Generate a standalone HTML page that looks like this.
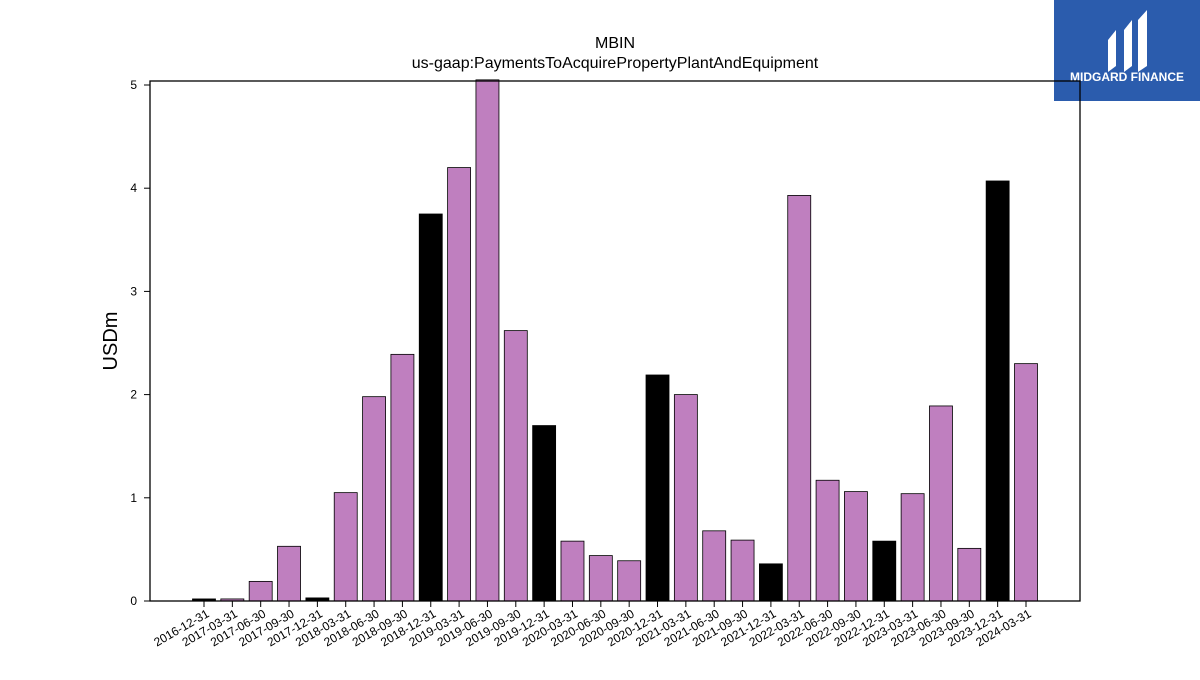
<!DOCTYPE html>
<html><head><meta charset="utf-8"><style>
body{margin:0;background:#fff;width:1200px;height:675px;overflow:hidden;font-family:"Liberation Sans","DejaVu Sans",sans-serif}
</style></head><body>
<svg id="chart" width="1200" height="675" xmlns="http://www.w3.org/2000/svg">
<rect x="1054" y="0" width="146" height="101" fill="#2b5cad"/>
<g fill="#fff">
<path d="M1108 40 L1116 30 L1116 66 L1108 72 Z"/>
<path d="M1124 30 L1132 20 L1132 66 L1124 72 Z"/>
<path d="M1138 20 L1147 10 L1147 66 L1138 72 Z"/>
</g>
<text x="1127" y="81" font-size="12" font-weight="bold" fill="#fff" text-anchor="middle">MIDGARD FINANCE</text>
<text x="615" y="48" font-size="16" text-anchor="middle">MBIN</text>
<text x="615" y="68" font-size="16" text-anchor="middle">us-gaap:PaymentsToAcquirePropertyPlantAndEquipment</text>
<text transform="translate(117,341) rotate(-90)" font-size="20" text-anchor="middle">USDm</text>
<g id="yticks"></g><g id="bars"></g><g id="xticks"></g>
<rect x="150" y="81" width="930" height="520" fill="none" stroke="#000" stroke-width="1.3"/>
</svg>
<script>
const categories=["2016-12-31","2017-03-31","2017-06-30","2017-09-30","2017-12-31","2018-03-31","2018-06-30","2018-09-30","2018-12-31","2019-03-31","2019-06-30","2019-09-30","2019-12-31","2020-03-31","2020-06-30","2020-09-30","2020-12-31","2021-03-31","2021-06-30","2021-09-30","2021-12-31","2022-03-31","2022-06-30","2022-09-30","2022-12-31","2023-03-31","2023-06-30","2023-09-30","2023-12-31","2024-03-31"];
const values=[0.02,0.02,0.19,0.53,0.03,1.05,1.98,2.39,3.75,4.20,5.05,2.62,1.70,0.58,0.44,0.39,2.19,2.00,0.68,0.59,0.36,3.93,1.17,1.06,0.58,1.04,1.89,0.51,4.07,2.30];
const yTicks=[0,1,2,3,4,5];
const NS="http://www.w3.org/2000/svg";
const y0=601,pxPerUnit=103.2,x0=204,step=(1026-204)/29,bw=23;
const yScale=v=>y0-v*pxPerUnit;
const xScale=i=>x0+i*step;
const yg=document.getElementById('yticks'),bg=document.getElementById('bars'),xg=document.getElementById('xticks');
yTicks.forEach(t=>{
 const l=document.createElementNS(NS,'line');
 
 
 l.setAttribute('x1',144);l.setAttribute('x2',150);l.setAttribute('y1',yScale(t));l.setAttribute('y2',yScale(t));l.setAttribute('stroke','#000');
 yg.appendChild(l);
 const tx=document.createElementNS(NS,'text');
 
 
 tx.setAttribute('x',137);tx.setAttribute('y',yScale(t)+4);tx.setAttribute('font-size','12');tx.setAttribute('text-anchor','end');
 tx.textContent=t;yg.appendChild(tx);
});
categories.forEach((c,i)=>{
 const v=values[i],cx=xScale(i);
 const r=document.createElementNS(NS,'rect');
 
 
 r.setAttribute('x',cx-bw/2);r.setAttribute('width',bw);
 r.setAttribute('y',yScale(v));r.setAttribute('height',y0-yScale(v));
 r.setAttribute('fill',c.endsWith('12-31')?'#000':'#bf7fbf');r.setAttribute('stroke','#000');r.setAttribute('stroke-width','0.8');
 bg.appendChild(r);
 const l=document.createElementNS(NS,'line');
 
 
 l.setAttribute('x1',cx);l.setAttribute('x2',cx);l.setAttribute('y1',601);l.setAttribute('y2',607);l.setAttribute('stroke','#000');
 xg.appendChild(l);
 const tx=document.createElementNS(NS,'text');
 
 
 tx.setAttribute('transform','translate('+(cx+6)+',616) rotate(-30)');tx.setAttribute('font-size','12');tx.setAttribute('text-anchor','end');
 tx.textContent=c;xg.appendChild(tx);
});
</script>
</body></html>
